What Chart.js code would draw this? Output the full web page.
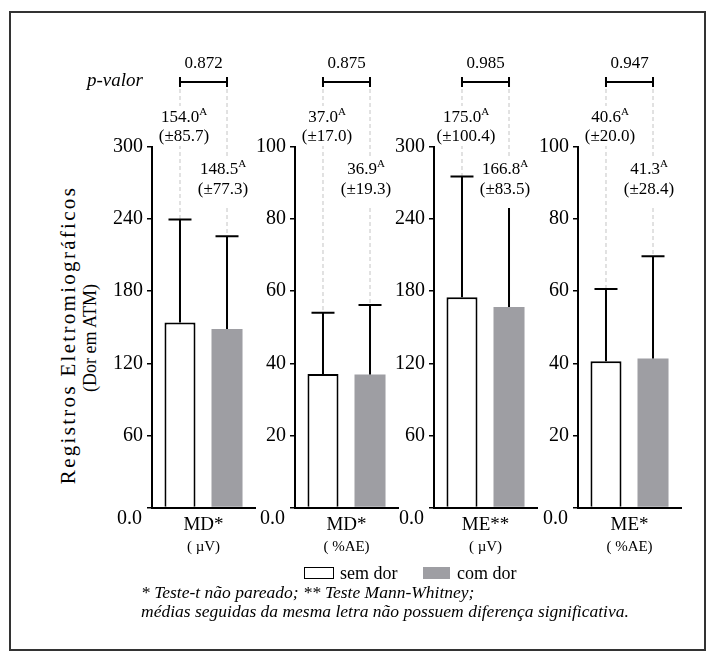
<!DOCTYPE html>
<html>
<head>
<meta charset="utf-8">
<script src="https://cdn.jsdelivr.net/npm/chart.js@4.4.0/dist/chart.umd.min.js"></script>
<style>
  body { margin: 0; background: #fff; font-family: "Liberation Serif", serif; color: #000; }
  #page { position: relative; width: 713px; height: 659px; overflow: hidden; }
  #frame { position: absolute; left: 9px; top: 11px; width: 693px; height: 636px; border: 2px solid #333; }
  canvas { position: absolute; top: 0; }
  .txt { position: absolute; white-space: nowrap; }
  .rot { transform: translate(-50%, -50%) rotate(-90deg); }
  .box { position: absolute; top: 567px; height: 12px; box-sizing: border-box; }
</style>
</head>
<body>
<div id="page">
  <div id="frame"></div>
  <canvas id="c0" width="168" height="570" style="left:107px"></canvas>
  <canvas id="c1" width="168" height="570" style="left:250px"></canvas>
  <canvas id="c2" width="168" height="570" style="left:389px"></canvas>
  <canvas id="c3" width="168" height="570" style="left:533px"></canvas>

  <div class="txt" style="left:87px; top:69px; font-size:19px; line-height:22px; font-style:italic;">p-valor</div>
  <div class="txt rot" style="left:68px; top:335px; font-size:21px; letter-spacing:2.3px;">Registros Eletromiográficos</div>
  <div class="txt rot" style="left:90px; top:338px; font-size:18px;">(Dor em ATM)</div>

  <div class="box" style="left:304px; width:30px; border:1.5px solid #000; background:#fff;"></div>
  <div class="txt" style="left:340px; top:562px; font-size:18px; line-height:22px;">sem dor</div>
  <div class="box" style="left:423px; width:27px; background:#9e9ea3;"></div>
  <div class="txt" style="left:457px; top:562px; font-size:18px; line-height:22px;">com dor</div>

  <div class="txt" style="left:141px; top:583px; font-size:17.5px; line-height:19px; font-style:italic;">* Teste-t não pareado; ** Teste Mann-Whitney;</div>
  <div class="txt" style="left:141px; top:602px; font-size:17.5px; line-height:19px; font-style:italic;">médias seguidas da mesma letra não possuem diferença significativa.</div>
</div>

<script>
// DATA
const panels = ["MD*", "MD*", "ME**", "ME*"];
const units = ["( µV)", "( %AE)", "( µV)", "( %AE)"];
const semDor = [154.0, 37.0, 175.0, 40.6];
const semDorSD = [85.7, 17.0, 100.4, 20.0];
const comDor = [148.5, 36.9, 166.8, 41.3];
const comDorSD = [77.3, 19.3, 83.5, 28.4];
const semLetter = ["A", "A", "A", "A"];
const comLetter = ["A", "A", "A", "A"];
const pValues = ["0.872", "0.875", "0.985", "0.947"];
const yMax = [300, 100, 300, 100];
const yStep = [60, 20, 60, 20];

const FONT = '"Liberation Serif", serif';
const GRAY = "#9e9ea3";

Chart.defaults.font.family = FONT;
Chart.defaults.color = "#000";

// LABEL WITH SUPERSCRIPT LETTER
function drawLabel(ctx, cx, y1, y2, main, sup, sub, padBottom) {
  ctx.font = "17px " + FONT;
  const w1 = ctx.measureText(main).width;
  const w2 = ctx.measureText(sub).width;
  ctx.font = "11px " + FONT;
  const ws = ctx.measureText(sup).width;
  const wTot = Math.max(w1 + ws, w2);

  ctx.fillStyle = "#fff";
  ctx.fillRect(cx - wTot / 2 - 2, y1 - 12, wTot + 4, y2 + padBottom - (y1 - 12));

  ctx.fillStyle = "#000";
  ctx.textBaseline = "middle";
  ctx.textAlign = "left";
  const x1 = cx - (w1 + ws) / 2;
  ctx.font = "17px " + FONT;
  ctx.fillText(main, x1, y1);
  ctx.font = "11px " + FONT;
  ctx.fillText(sup, x1 + w1, y1 - 6);
  ctx.font = "17px " + FONT;
  ctx.textAlign = "center";
  ctx.fillText(sub, cx, y2);
}

// ERROR BARS, GUIDES, BRACKET, LABELS
const annotPlugin = {
  id: "annot",
  afterDraw(chart, args, opts) {
    const i = opts.panel;
    const ctx = chart.ctx;
    const y = chart.scales.y;
    const area = chart.chartArea;
    const bx = [0, 1].map(d => chart.getDatasetMeta(d).data[0].x);
    const means = [semDor[i], comDor[i]];
    const sds = [semDorSD[i], comDorSD[i]];
    const tops = means.map((m, k) => y.getPixelForValue(m + sds[k]));
    const bracketY = area.top - 65;

    ctx.save();
    // dashed guides
    ctx.strokeStyle = "#c4c4c4";
    ctx.lineWidth = 1;
    ctx.setLineDash([4, 3]);
    bx.forEach((x, k) => {
      ctx.beginPath();
      ctx.moveTo(x, bracketY);
      ctx.lineTo(x, tops[k]);
      ctx.stroke();
    });
    ctx.setLineDash([]);

    // upper error bars
    ctx.strokeStyle = "#000";
    ctx.lineWidth = 2;
    bx.forEach((x, k) => {
      const b = y.getPixelForValue(means[k]);
      ctx.beginPath();
      ctx.moveTo(x, b);
      ctx.lineTo(x, tops[k]);
      ctx.moveTo(x - 11.5, tops[k]);
      ctx.lineTo(x + 11.5, tops[k]);
      ctx.stroke();
    });

    // p-value bracket
    ctx.beginPath();
    ctx.moveTo(bx[0], bracketY);
    ctx.lineTo(bx[1], bracketY);
    ctx.moveTo(bx[0], bracketY - 5);
    ctx.lineTo(bx[0], bracketY + 5);
    ctx.moveTo(bx[1], bracketY - 5);
    ctx.lineTo(bx[1], bracketY + 5);
    ctx.stroke();
    ctx.fillStyle = "#000";
    ctx.font = "17px " + FONT;
    ctx.textAlign = "center";
    ctx.textBaseline = "middle";
    ctx.fillText(pValues[i], (bx[0] + bx[1]) / 2, bracketY - 18);

    // mean labels
    drawLabel(ctx, bx[0] + 4, area.top - 29, area.top - 10,
      semDor[i].toFixed(1), semLetter[i], "(±" + semDorSD[i].toFixed(1) + ")", 9);
    drawLabel(ctx, bx[1] - 4, area.top + 23, area.top + 43,
      comDor[i].toFixed(1), comLetter[i], "(±" + comDorSD[i].toFixed(1) + ")", 18);

    // zero label sits below the axis
    ctx.fillStyle = "#000";
    ctx.font = "20px " + FONT;
    ctx.textAlign = "right";
    ctx.fillText("0.0", area.left - 10, y.getPixelForValue(0) + 11);
    ctx.restore();
  }
};

// CREATE ONE PANEL
function createPanel(i) {
  return new Chart(document.getElementById("c" + i), {
    type: "bar",
    data: {
      labels: [panels[i]],
      datasets: [
        { label: "sem dor", data: [semDor[i]], backgroundColor: "#fff", borderColor: "#000", borderWidth: 2 },
        { label: "com dor", data: [comDor[i]], backgroundColor: GRAY, borderWidth: 0 }
      ]
    },
    options: {
      responsive: false,
      animation: false,
      devicePixelRatio: 1,
      categoryPercentage: 0.913,
      barPercentage: 0.66,
      layout: { padding: { top: 147, left: 0, right: 20, bottom: 0 } },
      plugins: {
        legend: { display: false },
        tooltip: { enabled: false },
        annot: { panel: i }
      },
      scales: {
        x: {
          grid: { display: false, drawTicks: false },
          border: { display: true, color: "#000", width: 2 },
          ticks: { font: { size: 19 }, padding: 6, color: "#000" },
          title: { display: true, text: units[i], font: { size: 15 }, color: "#000", padding: { top: 0, bottom: 14 } },
          afterFit: s => { s.height = 62.5; }
        },
        y: {
          min: 0,
          max: yMax[i],
          grid: { drawOnChartArea: false, drawTicks: true, tickLength: 5, color: "#000", lineWidth: 1.5 },
          border: { display: true, color: "#000", width: 2 },
          ticks: {
            stepSize: yStep[i],
            font: { size: 20 },
            padding: 4,
            color: "#000",
            callback: v => (v === 0 ? "" : v)
          },
          afterFit: s => { s.width = 45; }
        }
      }
    },
    plugins: [annotPlugin]
  });
}

for (let i = 0; i < panels.length; i++) createPanel(i);
</script>
</body>
</html>
